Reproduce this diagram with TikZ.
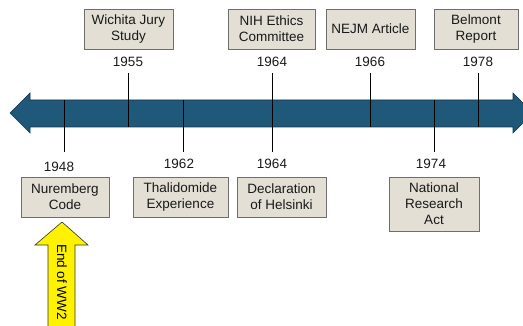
\documentclass[tikz,border=0pt]{standalone}
\usepackage{fontspec}
\setmainfont{Liberation Sans}
\definecolor{barblue}{HTML}{1F5878}
\definecolor{bardark}{HTML}{12384F}
\definecolor{boxfill}{HTML}{E3DFD5}
\definecolor{boxline}{HTML}{6E6E6E}

\begin{document}
\begin{tikzpicture}[x=1pt, y=-1pt]
    \tikzset{
        event/.style={
            draw=boxline, fill=boxfill, line width=0.8pt,
            align=center, inner sep=1pt,
            font=\fontsize{13.5}{16}\selectfont, text=black!90,
        },
        year/.style={font=\fontsize{13.5}{16}\selectfont, text=black!90, inner sep=0pt},
        tick/.style={line width=0.9pt},
    }
    \useasboundingbox (0,0) rectangle (523,326);

    % Timeline
    \draw[fill=barblue, draw=bardark, line width=0.6pt]
        (10,113) -- (30,93) -- (30,100) -- (513,100) -- (513,93) -- (533,113)
        -- (513,133) -- (513,127) -- (30,127) -- (30,133) -- cycle;

    % Events above
    \node[event, minimum width=89pt, minimum height=40pt] (wichita) at (128.5,29) {Wichita Jury\\Study};
    \node[event, minimum width=87pt, minimum height=40pt] (nih) at (271.5,29) {NIH Ethics\\Committee};
    \node[event, minimum width=89pt, minimum height=40pt] (nejm) at (370.5,29) {NEJM Article};
    \node[event, minimum width=84pt, minimum height=40pt] (belmont) at (476,29) {Belmont\\Report};

    % Events below
    \node[event, minimum width=88pt, minimum height=40pt] (nuremberg) at (65,197) {Nuremberg\\Code};
    \node[event, minimum width=95pt, minimum height=40pt] (thalidomide) at (180.5,197) {Thalidomide\\Experience};
    \node[event, minimum width=89pt, minimum height=40pt] (helsinki) at (281.5,197) {Declaration\\of Helsinki};
    \node[event, minimum width=90pt, minimum height=54pt] (nra) at (434,204) {National\\Research\\Act};

    % Years
    \node[year] (y55) at (128,62) {1955};
    \node[year] (y64a) at (272,62) {1964};
    \node[year] (y66) at (370,62) {1966};
    \node[year] (y78) at (478,62) {1978};
    \node[year] (y48) at (59,167) {1948};
    \node[year] (y62) at (179,164) {1962};
    \node[year] (y64b) at (272,164) {1964};
    \node[year] (y74) at (431,164) {1974};

    % Ticks
    \coordinate (t55a) at (128,73);  \coordinate (t55b) at (128,127);
    \coordinate (t64a) at (272,73);  \coordinate (t64b) at (272,152);
    \coordinate (t66a) at (370,73);  \coordinate (t66b) at (370,127);
    \coordinate (t78a) at (478,73);  \coordinate (t78b) at (478,127);
    \coordinate (t48a) at (64,100);  \coordinate (t48b) at (64,152);
    \coordinate (t62a) at (183,100); \coordinate (t62b) at (183,152);
    \coordinate (t74a) at (434,100); \coordinate (t74b) at (434,152);
    \draw[tick] (t55a) -- (t55b);
    \draw[tick] (t64a) -- (t64b);
    \draw[tick] (t66a) -- (t66b);
    \draw[tick] (t78a) -- (t78b);
    \draw[tick] (t48a) -- (t48b);
    \draw[tick] (t62a) -- (t62b);
    \draw[tick] (t74a) -- (t74b);

    % End of the war
    \draw[fill=yellow, draw=black!80, line width=0.6pt]
        (62,222) -- (88,245) -- (75,245) -- (75,330) -- (48,330) -- (48,245) -- (35,245) -- cycle;
    \node[year, rotate=-90, text=black] (ww2) at (62,282) {End of WW2};
\end{tikzpicture}
\end{document}
